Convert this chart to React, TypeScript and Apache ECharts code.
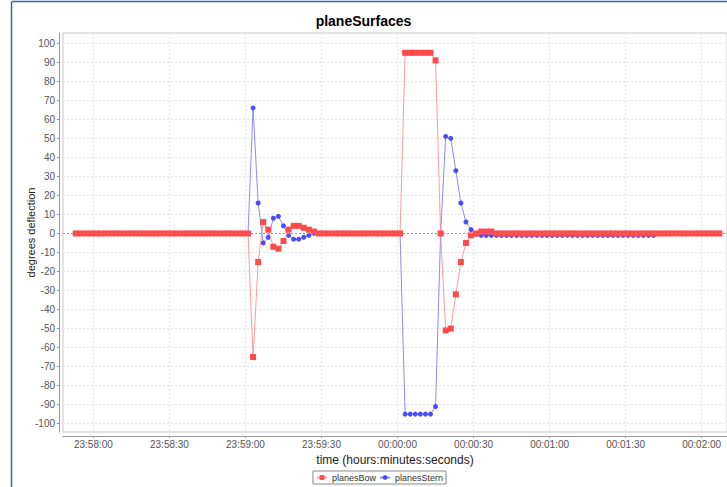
import React, { useEffect, useRef } from 'react';
import * as echarts from 'echarts';

const chartTitle = 'planeSurfaces';
const bowName = 'planesBow';
const sternName = 'planesStern';
const xAxisTitle = 'time (hours:minutes:seconds)';
const yAxisTitle = 'degrees deflection';

// sample times: seconds relative to 00:00:00, one sample every 2 s
const sampleStart = -127;
const sampleStep = 2;

const bowValues = [
  0, 0, 0, 0, 0, 0, 0, 0, 0, 0, 0, 0, 0, 0, 0, 0, 0, 0, 0, 0,
  0, 0, 0, 0, 0, 0, 0, 0, 0, 0, 0, 0, 0, 0, 0,
  -65, -15, 6, 2, -7, -8, -4, 2, 4, 4, 3, 2, 1,
  0, 0, 0, 0, 0, 0, 0, 0, 0, 0, 0, 0, 0, 0, 0, 0, 0,
  95, 95, 95, 95, 95, 95, 91, 0,
  -51, -50, -32, -15, -5, -1, 0, 1, 1, 1,
  0, 0, 0, 0, 0, 0, 0, 0, 0, 0, 0, 0, 0, 0, 0, 0, 0, 0, 0, 0,
  0, 0, 0, 0, 0, 0, 0, 0, 0, 0, 0, 0, 0, 0, 0, 0, 0, 0, 0, 0,
  0, 0, 0, 0, 0,
];

const sternValues = [
  0, 0, 0, 0, 0, 0, 0, 0, 0, 0, 0, 0, 0, 0, 0, 0, 0, 0, 0, 0,
  0, 0, 0, 0, 0, 0, 0, 0, 0, 0, 0, 0, 0, 0, 0,
  66, 16, -5, -2, 8, 9, 4, -1, -3, -3, -2, -1, 0,
  0, 0, 0, 0, 0, 0, 0, 0, 0, 0, 0, 0, 0, 0, 0, 0, 0,
  -95, -95, -95, -95, -95, -95, -91, 0,
  51, 50, 33, 16, 6, 2, -0.5,
  -1, -1, -1, -1, -1, -1, -1, -1, -1, -1, -1, -1, -1, -1, -1, -1, -1, -1, -1, -1,
  -1, -1, -1, -1, -1, -1, -1, -1, -1, -1, -1, -1, -1, -1, -1,
];

const timeTicks = [-120, -90, -60, -30, 0, 30, 60, 90, 120];
const degreeTicks = [-100, -90, -80, -70, -60, -50, -40, -30, -20, -10, 0, 10, 20, 30, 40, 50, 60, 70, 80, 90, 100];

const pad = (n: number) => String(n).padStart(2, '0');
function fmtTime(t: number): string {
  const s = ((Math.round(t) % 86400) + 86400) % 86400;
  const h = Math.floor(s / 3600);
  const m = Math.floor((s % 3600) / 60);
  const sec = s % 60;
  return `${pad(h)}:${pad(m)}:${pad(sec)}`;
}

const toPairs = (vals: number[]) => vals.map((v, i) => [sampleStart + i * sampleStep, v]);

export default function App() {
  const ref = useRef<HTMLDivElement>(null);
  useEffect(() => {
    if (!ref.current) return;
    const chart = echarts.init(ref.current, null, { renderer: 'svg' });
    const font = 'Liberation Sans';
    chart.setOption({
      animation: false,
      backgroundColor: '#ffffff',
      textStyle: { fontFamily: font },
      title: {
        text: chartTitle,
        left: 'center',
        top: 9,
        textStyle: { fontSize: 14, fontWeight: 'bold', color: '#000', fontFamily: font },
      },
      legend: {
        left: 313,
        top: 471,
        orient: 'horizontal',
        borderColor: '#888',
        borderWidth: 1,
        padding: [2, 3, 2, 3],
        itemGap: 3,
        itemWidth: 10,
        itemHeight: 6,
        textStyle: { fontSize: 9, color: '#333', fontFamily: font },
        data: [bowName, sternName],
      },
      grid: {
        left: 63,
        top: 33,
        right: 0,
        bottom: 55,
        show: true,
        borderColor: '#c8c8c8',
        borderWidth: 1,
        backgroundColor: '#fff',
      },
      xAxis: {
        type: 'value',
        min: -132,
        max: 130,
        offset: 4,
        name: xAxisTitle,
        nameLocation: 'middle',
        nameGap: 17,
        nameTextStyle: { fontSize: 12, color: '#222', fontFamily: font },
        axisLine: { show: true, onZero: false, lineStyle: { color: '#999', width: 1 } },
        axisTick: { show: true, length: 2, customValues: timeTicks, lineStyle: { color: '#999' } },
        axisLabel: {
          customValues: timeTicks,
          formatter: (v: number) => fmtTime(v),
          fontSize: 10,
          color: '#555',
          margin: 3,
          fontFamily: font,
        },
        splitLine: { show: true, lineStyle: { color: '#e4e4e4', type: [2, 2], width: 1 } },
      },
      yAxis: {
        type: 'value',
        min: -104.4,
        max: 105.4,
        offset: 4,
        name: yAxisTitle,
        nameLocation: 'middle',
        nameGap: 23,
        nameMoveOverlap: false,
        nameRotate: 90,
        nameTextStyle: { fontSize: 11, color: '#222', fontFamily: font },
        axisLine: { show: true, onZero: false, lineStyle: { color: '#999', width: 1 } },
        axisTick: { show: true, length: 2, customValues: degreeTicks, lineStyle: { color: '#999' } },
        axisLabel: {
          customValues: degreeTicks,
          fontSize: 10,
          color: '#555',
          margin: 4,
          fontFamily: font,
        },
        splitLine: { show: true, lineStyle: { color: '#e4e4e4', type: [2, 2], width: 1 } },
      },
      graphic: [
        { type: 'line', shape: { x1: 11.5, y1: 2, x2: 11.5, y2: 487 }, style: { stroke: '#2a63c9', lineWidth: 1.5 }, z: 10 },
        { type: 'line', shape: { x1: 11.5, y1: 1.5, x2: 727, y2: 1.5 }, style: { stroke: '#2a63c9', lineWidth: 1.5 }, z: 10 },
      ],
      series: [
        {
          name: '__zero',
          type: 'line',
          data: [],
          z: 1,
          silent: true,
          markLine: {
            silent: true,
            symbol: 'none',
            label: { show: false },
            lineStyle: { color: '#8c8cff', type: [2, 2], width: 1 },
            data: [{ yAxis: 0 }],
          },
        },
        {
          name: sternName,
          type: 'line',
          data: toPairs(sternValues),
          z: 2,
          symbol: 'circle',
          symbolSize: 5,
          itemStyle: { color: '#4a4aff' },
          lineStyle: { color: '#8080ff', width: 1, opacity: 0.9 },
        },
        {
          name: bowName,
          type: 'line',
          data: toPairs(bowValues),
          z: 3,
          symbol: 'rect',
          symbolSize: 6,
          itemStyle: { color: '#ff4a4a' },
          lineStyle: { color: '#ff8f8f', width: 1, opacity: 0.9 },
        },
      ],
    });
    return () => chart.dispose();
  }, []);
  return (
    <div
      ref={ref}
      style={{ position: 'fixed', left: 0, top: 0, width: 727, height: 487, background: '#fff' }}
    />
  );
}
